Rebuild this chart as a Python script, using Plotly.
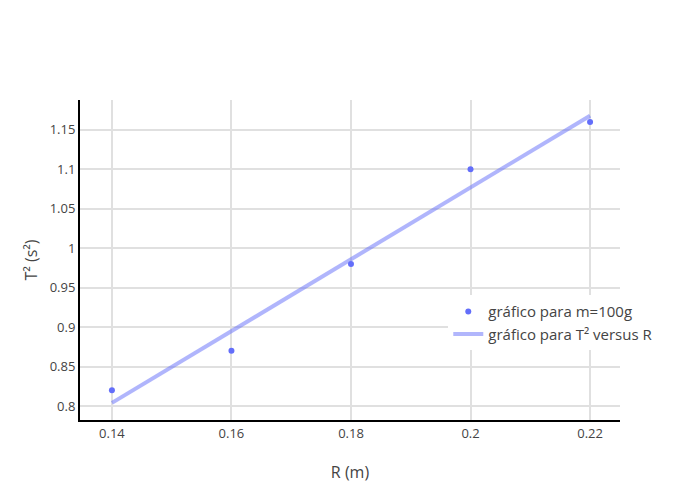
import plotly.graph_objects as go

R_m = [0.14, 0.16, 0.18, 0.20, 0.22]
T2_s2 = [0.82, 0.87, 0.98, 1.10, 1.16]
fit_R = [0.14, 0.16, 0.18, 0.20, 0.22]
fit_T2 = [0.804, 0.895, 0.986, 1.077, 1.168]

fig = go.Figure()
fig.add_trace(go.Scatter(
    x=R_m, y=T2_s2, mode="markers", name="gráfico para m=100g",
    marker=dict(color="#636efa", size=6),
))
fig.add_trace(go.Scatter(
    x=fit_R, y=fit_T2, mode="lines", name="gráfico para T² versus R",
    line=dict(color="#636efa", width=4), opacity=0.5,
))

fig.update_layout(
    width=700, height=500,
    template="none",
    paper_bgcolor="white", plot_bgcolor="white",
    margin=dict(l=80, r=80, t=100, b=80),
    font=dict(family="Open Sans, verdana, arial, sans-serif", size=13, color="#444"),
    legend=dict(x=0.682, y=0.39, xanchor="left", yanchor="top",
                bgcolor="white", font=dict(size=15)),
    xaxis=dict(title=dict(text="R (m)", font=dict(size=16), standoff=26),
               range=[0.13466, 0.22501], tickvals=[0.14, 0.16, 0.18, 0.2, 0.22],
               ticktext=["0.14", "0.16", "0.18", "0.2", "0.22"],
               showgrid=True, gridcolor="#e0e0e0", gridwidth=2,
               showline=True, linecolor="black", linewidth=2,
               zeroline=False, ticks="", tickfont=dict(size=13)),
    yaxis=dict(title=dict(text="T² (s²)", font=dict(size=16)),
               range=[0.7823, 1.1879],
               tickvals=[0.8, 0.85, 0.9, 0.95, 1.0, 1.05, 1.1, 1.15],
               ticktext=["0.8", "0.85", "0.9", "0.95", "1", "1.05", "1.1", "1.15"],
               showgrid=True, gridcolor="#e0e0e0", gridwidth=2,
               showline=True, linecolor="black", linewidth=2,
               zeroline=False, ticks="", tickfont=dict(size=13)),
)

fig.write_html("out.html", config={"displayModeBar": False},
               post_script="document.body.style.margin='0';")
